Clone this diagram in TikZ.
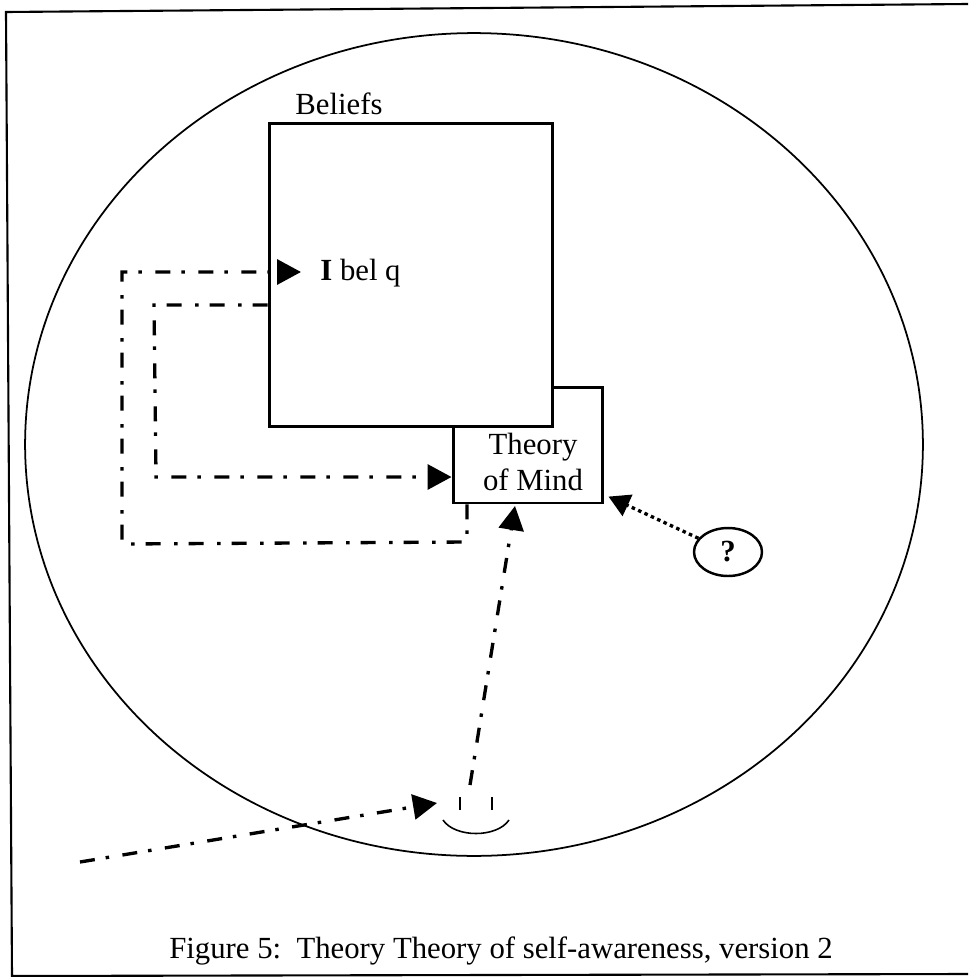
\documentclass[tikz,border=0pt]{standalone}
\usepackage{fontspec}
\setmainfont{Liberation Serif}
\usetikzlibrary{shapes.geometric, arrows.meta, positioning, calc}

\begin{document}
\begin{tikzpicture}[
    x=0.02cm, y=-0.02cm,
    % --- node styles ---
    mindcircle/.style={ellipse, draw=black, line width=1pt, minimum width=17.96cm,
        minimum height=16.46cm},
    tombox/.style={rectangle, draw=black, line width=1.7pt, fill=white, minimum width=3cm,
        minimum height=2.32cm},
    beliefbox/.style={rectangle, draw=black, line width=1.7pt, fill=white, minimum width=5.68cm,
        minimum height=6.08cm},
    query/.style={ellipse, draw=black, line width=1.4pt, minimum width=1.36cm,
        minimum height=0.96cm, inner sep=0pt, font=\fontsize{17.5}{20}\selectfont\bfseries},
    txt/.style={font=\fontsize{17.5}{20}\selectfont, align=center, inner sep=0pt},
    % --- arrow / line styles ---
    dotdash/.style={line width=1.9pt, dash pattern=on 0.3cm off 0.22cm on 0.07cm off 0.27cm},
    arr/.style={-{Triangle[length=0.48cm, width=0.5cm]}, dotdash},
    dotarr/.style={-{Triangle[length=0.42cm, width=0.46cm]}, line width=1.9pt,
        dash pattern=on 0.07cm off 0.07cm},
    frameline/.style={line width=1.2pt},
    eyeline/.style={line width=0.9pt}
]

\useasboundingbox (0,0) rectangle (968,977);

%%% ================= FRAME AND CIRCLE =================
\draw [frameline] (968,4) -- (6,12) -- (12,976) -- (968,974);
\node (mind) [mindcircle] at (474,444.5) {};

%%% ================= BOXES =================
\node (tom) [tombox] at (528,445) {};
\node (bel) [beliefbox] at (411,275) {};
\node (tomtext) [txt] at (533,462) {Theory\\of Mind};
\node (beltext) [txt] at (339,104) {Beliefs};
\node (ibel) [txt, anchor=west] at (320,273) {\textbf{I} bel q};
\node (ques) [query] at (728,552) {?};
\node (caption) [txt] at (501,951) {Figure 5:\ \ Theory Theory of self-awareness, version 2};

%%% ================= EYE =================
\coordinate (eyetop) at (470,785);
\coordinate (eyein) at (437,803);
\coordinate (world) at (80,862);
\draw [eyeline] (460,797) -- (460,810);
\draw [eyeline] (492,797) -- (492,810);
\draw [eyeline] (443,820) .. controls (455,838) and (497,838) .. (509,820);

%%% ================= ARROWS =================
%% Out of the beliefs box
\draw [arr] (tom.south -| 467,0) -- (467,542) -- (122,544) -- (122,272) -- (301,272);
\draw [arr] (bel.west |- 0,305) -- (154,305) -- (156,477) -- (tom.west |- 0,477);

%% Perception
\draw [arr] (world) -- (eyein);
\draw [arr] (eyetop) -- (515,506);

%% Unknown source
\draw [dotarr] (ques) -- ([shift={(2.3pt,4.5pt)}]tom.south east);

\end{tikzpicture}
\end{document}
